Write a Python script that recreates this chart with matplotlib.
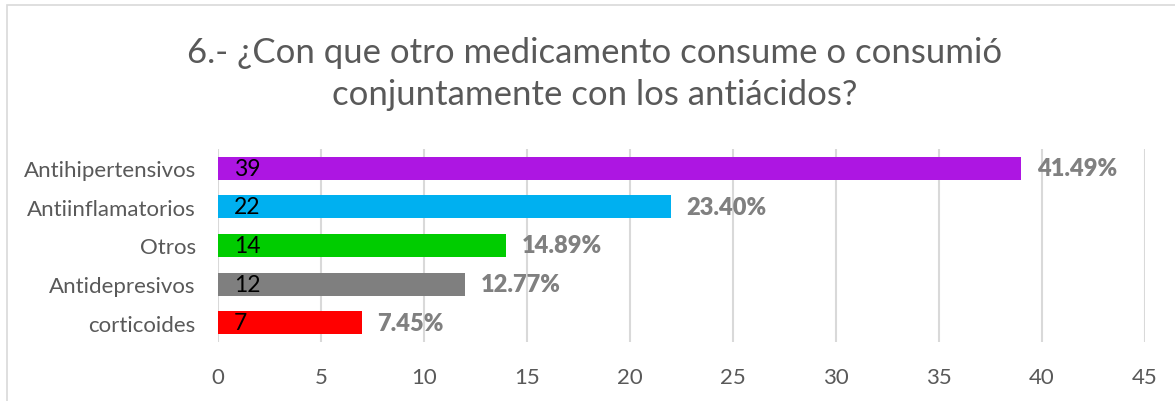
import matplotlib
matplotlib.use("Agg")
import matplotlib.pyplot as plt
from matplotlib.patches import Rectangle

plt.rcParams['font.family'] = ['Lato', 'DejaVu Sans']

categories = ["Antihipertensivos", "Antiinflamatorios", "Otros", "Antidepresivos", "corticoides"]
counts = [39, 22, 14, 12, 7]
percents = ["41.49%", "23.40%", "14.89%", "12.77%", "7.45%"]
colors = ["#AD16E2", "#00B0F0", "#00CC00", "#7F7F7F", "#FF0000"]
title = "6.- ¿Con que otro medicamento consume o consumió\nconjuntamente con los antiácidos?"

W, H = 1175, 402
fig = plt.figure(figsize=(W / 100, H / 100), dpi=100)
fig.patches.append(Rectangle((7 / W, -0.1), 1.2, 1 - 6 / H + 0.1, transform=fig.transFigure,
                             fill=False, edgecolor="#D9D9D9", linewidth=1.2))

ax = fig.add_axes([218 / W, 59 / H, 927 / W, 193 / H])
ypos = list(range(len(categories)))
ax.barh(ypos, counts, height=0.6, color=colors, zorder=3)

for y, c, p in zip(ypos, counts, percents):
    ax.annotate(str(c), (0, y), xytext=(11.5, 0), textcoords="offset points",
                va="center", ha="left", fontsize=16.5, color="black", zorder=4)
    ax.annotate(p, (c, y), xytext=(11, 0), textcoords="offset points",
                va="center", ha="left", fontsize=17, fontweight="heavy", color="#808080")

ax.set_xlim(0, 45)
ax.set_ylim(len(categories) - 0.5, -0.5)
ax.set_yticks(ypos)
ax.set_yticklabels(categories)
ax.set_xticks(range(0, 46, 5))
ax.tick_params(axis="both", length=0, labelsize=16, labelcolor="#595959")
ax.tick_params(axis="x", pad=18)
ax.tick_params(axis="y", pad=16)
ax.grid(axis="x", color="#D9D9D9", linewidth=1.5, zorder=0)
for s in ax.spines.values():
    s.set_visible(False)

fig.text(595 / W, 1 - 74 / H, title, ha="center", va="center", fontsize=25,
         color="#595959", linespacing=1.4)

fig.savefig("out.png", dpi=100)
